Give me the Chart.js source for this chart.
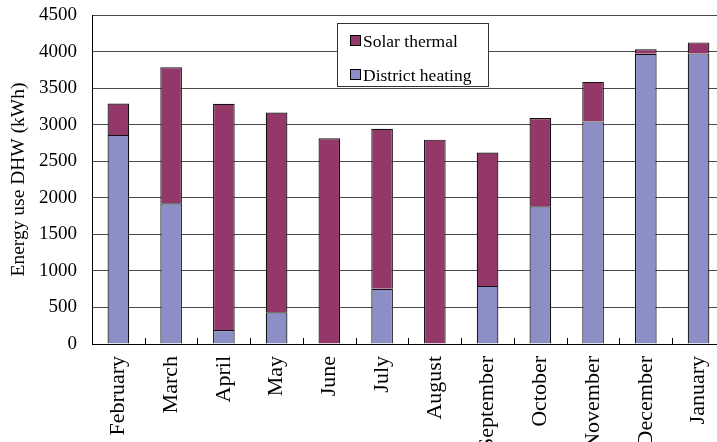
<!DOCTYPE html>
<html>
<head>
<meta charset="utf-8">
<script src="https://cdn.jsdelivr.net/npm/chart.js"></script>
<style>
  html, body { margin: 0; padding: 0; background: #fff; overflow: hidden; }
  #wrap { width: 717px; height: 442px; overflow: hidden; }
  canvas { display: block; }
</style>
</head>
<body>
<div id="wrap"><canvas id="c" width="737" height="442"></canvas></div>
<script>
  // monthly DHW energy use, kWh
  const months = ['February', 'March', 'April', 'May', 'June', 'July',
    'August', 'September', 'October', 'November', 'December', 'January'];
  const districtHeating = [2860, 1925, 190, 435, 0, 755, 0, 795, 1885, 3045, 3970, 3975];
  const solarThermal = [430, 1860, 3095, 2730, 2815, 2190, 2795, 1825, 1205, 540, 60, 150];
  const yTicks = [0, 500, 1000, 1500, 2000, 2500, 3000, 3500, 4000, 4500];

  const serif = '"Liberation Serif", "DejaVu Serif", serif';
  const purple = '#94386a';
  const lilac = '#8b8fc6';

  // small inward ticks at category boundaries
  const innerTicks = {
    id: 'innerTicks',
    afterDatasetsDraw(chart) {
      const { ctx, chartArea: a } = chart;
      const n = months.length;
      const w = (a.right - a.left) / n;
      ctx.save();
      ctx.strokeStyle = '#000';
      ctx.lineWidth = 1;
      ctx.beginPath();
      for (let i = 1; i < n; i++) {
        const x = Math.round(a.left + i * w) + 0.5;
        ctx.moveTo(x, a.bottom);
        ctx.lineTo(x, a.bottom - 6);
      }
      ctx.stroke();
      ctx.restore();
    }
  };

  // boxed legend inside the plot, solar first
  const boxLegend = {
    id: 'boxLegend',
    afterDraw(chart) {
      const { ctx } = chart;
      const bx = 337.5, by = 23.5, bw = 151, bh = 63;
      ctx.save();
      ctx.fillStyle = '#fff';
      ctx.fillRect(bx, by, bw, bh);
      ctx.strokeStyle = '#333';
      ctx.lineWidth = 1;
      ctx.strokeRect(bx, by, bw, bh);
      const items = [chart.data.datasets[1], chart.data.datasets[0]];
      ctx.font = '17.5px ' + serif;
      ctx.textBaseline = 'alphabetic';
      items.forEach((ds, i) => {
        const y = 35 + i * 34;
        ctx.fillStyle = ds.backgroundColor;
        ctx.fillRect(350, y, 11, 11);
        ctx.strokeStyle = '#000';
        ctx.strokeRect(350.5, y + 0.5, 10, 10);
        ctx.fillStyle = '#000';
        ctx.fillText(ds.label, 363, y + 12);
      });
      ctx.restore();
    }
  };

  new Chart(document.getElementById('c'), {
    type: 'bar',
    data: {
      labels: months,
      datasets: [
        { label: 'District heating', data: districtHeating, backgroundColor: lilac,
          borderColor: '#111', borderWidth: 1.2 },
        { label: 'Solar thermal', data: solarThermal, backgroundColor: purple,
          borderColor: '#111', borderWidth: 1.2 }
      ]
    },
    options: {
      responsive: false,
      animation: false,
      devicePixelRatio: 1,
      layout: { padding: { top: 15, right: 1, left: 0, bottom: 0 } },
      datasets: { bar: { barPercentage: 0.41, categoryPercentage: 1 } },
      plugins: { legend: { display: false }, tooltip: { enabled: false } },
      scales: {
        x: {
          stacked: true,
          grid: { display: false, drawTicks: false },
          border: { color: '#000', width: 1 },
          ticks: {
            color: '#000', font: { family: serif, size: 22 },
            minRotation: 90, maxRotation: 90, padding: 12, autoSkip: false
          },
          afterFit(scale) {
            scale.height = 98;
            scale.paddingTop = 0;
            scale.paddingBottom = 0;
          }
        },
        y: {
          stacked: true,
          min: 0, max: 4500,
          afterBuildTicks(scale) { scale.ticks = yTicks.map(v => ({ value: v })); },
          grid: { color: '#4a4a4a', lineWidth: 1, drawTicks: false },
          border: { color: '#000', width: 1 },
          ticks: {
            color: '#000', font: { family: serif, size: 19 }, padding: 15,
            callback: v => String(v)
          },
          title: {
            display: true, text: 'Energy use DHW (kWh)', color: '#000',
            font: { family: serif, size: 19.5 }, padding: { top: 7, bottom: 0 }
          },
          afterFit(scale) {
            scale.width = 92;
            scale.paddingTop = 0;
            scale.paddingBottom = 0;
          }
        }
      }
    },
    plugins: [innerTicks, boxLegend]
  });
</script>
</body>
</html>
